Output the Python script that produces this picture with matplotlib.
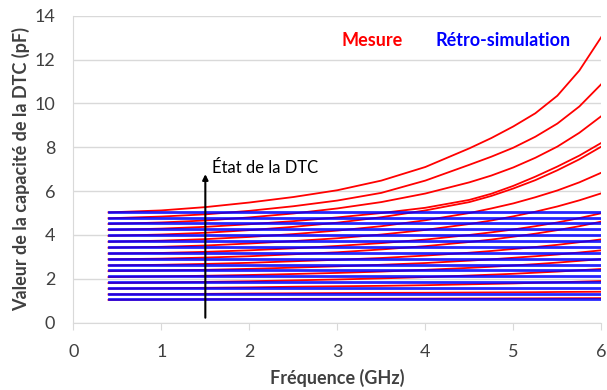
import numpy as np
import matplotlib
matplotlib.use("Agg")
import matplotlib.pyplot as plt

plt.rcParams['font.family'] = ['Lato', 'DejaVu Sans']

# frequency points (GHz)
freq_ghz = [0.4, 1.0, 1.5, 2.0, 2.5, 3.0, 3.5, 4.0, 4.5, 4.75, 5.0, 5.25, 5.5, 5.75, 6.0]

# retro-simulation: flat levels, one per DTC state (pF)
retro_sim_pf = [5.06, 4.79, 4.53, 4.26, 3.99, 3.72, 3.45, 3.18,
                2.92, 2.65, 2.39, 2.12, 1.85, 1.59, 1.33, 1.08]
retro_freq = [0.4, 6.0]

# measured curves, one list per DTC state (pF)
mesure_1 = [5.03, 5.12, 5.27, 5.48, 5.73, 6.04, 6.48, 7.10, 7.95, 8.42, 8.95, 9.55, 10.35, 11.50, 13.03]
mesure_2 = [4.76, 4.84, 4.94, 5.10, 5.31, 5.57, 5.92, 6.48, 7.20, 7.57, 7.98, 8.48, 9.08, 9.86, 10.88]
mesure_3 = [4.50, 4.57, 4.66, 4.80, 4.98, 5.21, 5.50, 5.89, 6.40, 6.71, 7.08, 7.52, 8.03, 8.66, 9.42]
mesure_4 = [4.23, 4.29, 4.37, 4.49, 4.63, 4.80, 5.00, 5.24, 5.60, 5.88, 6.24, 6.66, 7.12, 7.62, 8.20]
mesure_5 = [3.96, 4.02, 4.10, 4.22, 4.37, 4.56, 4.81, 5.12, 5.50, 5.78, 6.12, 6.50, 6.95, 7.45, 8.03]
mesure_6 = [3.69, 3.74, 3.81, 3.91, 4.04, 4.20, 4.40, 4.67, 5.00, 5.21, 5.44, 5.72, 6.03, 6.40, 6.84]
mesure_7 = [3.42, 3.46, 3.52, 3.61, 3.72, 3.85, 4.02, 4.23, 4.50, 4.66, 4.85, 5.06, 5.30, 5.58, 5.90]
mesure_8 = [3.15, 3.18, 3.23, 3.30, 3.39, 3.50, 3.63, 3.79, 4.00, 4.12, 4.25, 4.40, 4.57, 4.77, 4.99]
mesure_9 = [2.89, 2.92, 2.97, 3.03, 3.12, 3.21, 3.34, 3.49, 3.68, 3.79, 3.92, 4.06, 4.22, 4.40, 4.61]
mesure_10 = [2.61, 2.64, 2.68, 2.73, 2.80, 2.87, 2.95, 3.06, 3.19, 3.27, 3.36, 3.45, 3.55, 3.67, 3.80]
mesure_11 = [2.35, 2.38, 2.41, 2.455, 2.51, 2.57, 2.64, 2.72, 2.83, 2.89, 2.96, 3.03, 3.11, 3.20, 3.30]
mesure_12 = [2.08, 2.11, 2.14, 2.175, 2.22, 2.27, 2.33, 2.41, 2.50, 2.55, 2.61, 2.67, 2.74, 2.82, 2.90]
mesure_13 = [1.81, 1.83, 1.86, 1.89, 1.93, 1.97, 2.02, 2.08, 2.15, 2.19, 2.23, 2.28, 2.33, 2.39, 2.45]
mesure_14 = [1.55, 1.57, 1.59, 1.61, 1.64, 1.66, 1.68, 1.71, 1.75, 1.77, 1.79, 1.82, 1.84, 1.87, 1.90]
mesure_15 = [1.29, 1.30, 1.315, 1.33, 1.34, 1.35, 1.36, 1.365, 1.375, 1.38, 1.385, 1.39, 1.40, 1.405, 1.41]
mesure_16 = [1.04, 1.05, 1.063, 1.075, 1.087, 1.09, 1.094, 1.098, 1.103, 1.105, 1.108, 1.11, 1.114, 1.117, 1.12]

mesure_pf = [mesure_1, mesure_2, mesure_3, mesure_4, mesure_5, mesure_6, mesure_7, mesure_8,
             mesure_9, mesure_10, mesure_11, mesure_12, mesure_13, mesure_14, mesure_15, mesure_16]

RED = '#ff0000'
BLUE = '#0000ff'
GREY = '#404040'

fig = plt.figure(figsize=(6.07, 3.90), dpi=100)
ax = fig.add_axes([0.1208, 0.1726, 0.8699, 0.7872])

for curve in mesure_pf:
    ax.plot(freq_ghz, curve, color=RED, lw=1.3, zorder=3, solid_joinstyle='round')
for level in retro_sim_pf:
    ax.plot(retro_freq, [level, level], color=BLUE, lw=2.0, alpha=0.85, zorder=4)

ax.set_xlim(0, 6)
ax.set_ylim(0, 14)
ax.set_xticks(range(0, 7))
ax.set_yticks(range(0, 15, 2))
ax.grid(axis='y', color='#d9d9d9', lw=1)
ax.set_axisbelow(True)
for s in ['top', 'right']:
    ax.spines[s].set_visible(False)
for s in ['left', 'bottom']:
    ax.spines[s].set_color('#d9d9d9')
ax.tick_params(axis='x', colors='#d9d9d9', length=5, labelsize=13, labelcolor=GREY, pad=10)
ax.tick_params(axis='y', length=0, labelsize=13, labelcolor=GREY, pad=13)

ax.set_xlabel('Fréquence (GHz)', fontsize=13, fontweight='bold', color=GREY, labelpad=7)
ax.set_ylabel('Valeur de la capacité de la DTC (pF)', fontsize=13, fontweight='bold',
              color=GREY, labelpad=3)

ax.text(3.39, 12.89, 'Mesure', color=RED, fontsize=13, fontweight='bold', ha='center', va='center')
ax.text(4.88, 12.89, 'Rétro-simulation', color=BLUE, fontsize=13, fontweight='bold',
        ha='center', va='center')

ax.annotate('', xy=(1.5, 6.9), xytext=(1.5, 0.1),
            arrowprops=dict(arrowstyle='-|>', color='black', lw=1.5, mutation_scale=8), zorder=5)
ax.text(1.58, 7.05, 'État de la DTC', fontsize=12, color='black', ha='left', va='center')

fig.savefig('out.png', dpi=100)
